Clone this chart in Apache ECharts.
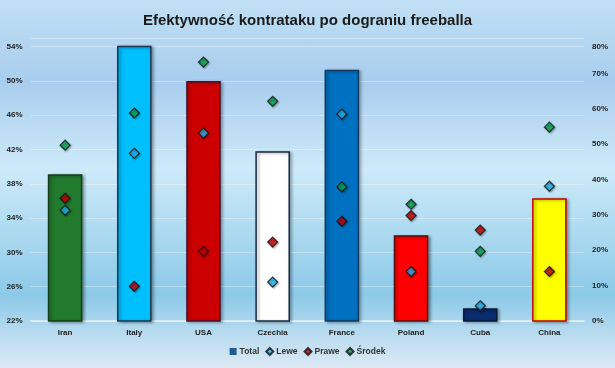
<!DOCTYPE html>
<html><head><meta charset="utf-8">
<script src="https://cdn.jsdelivr.net/npm/echarts@6/dist/echarts.min.js"></script>
<style>html,body{margin:0;padding:0;}#c{width:615px;height:368px;}</style>
</head><body><div id="c"></div>
<script>
const categories = ['Iran','Italy','USA','Czechia','France','Poland','Cuba','China'];
const total  = [39.1, 54.1, 50.0, 41.8, 51.3, 32.0, 23.5, 36.3];
const lewe   = [31.3, 47.4, 53.1, 11.0, 58.5, 14.0, 4.3, 38.1];
const prawe  = [34.7, 9.8, 19.7, 22.3, 28.2, 29.8, 25.7, 14.0];
const srodek = [49.7, 58.8, 73.2, 62.1, 37.9, 33.0, 19.7, 54.8];
const barColors  = ['#217a2e','#00bfff','#cc0000','#ffffff','#0070c0','#ff0000','#0b2d6e','#ffff00'];
const barBorders = ['#123d18','#1a3550','#4a1030','#1a2a44','#153a5e','#5a0a0a','#06173a','#c00000'];

const chart = echarts.init(document.getElementById('c'));
const diamond = (c) => ({color: c, borderColor: '#111', borderWidth: 1.2, shadowColor:'rgba(0,0,0,0.35)', shadowBlur:2, shadowOffsetX:1, shadowOffsetY:1});
const lbl = {fontFamily: 'Liberation Sans', fontWeight: 'bold', fontSize: 8, color: '#222'};
chart.setOption({
  backgroundColor: new echarts.graphic.LinearGradient(0,0,0,1,[
    {offset:0, color:'#bfe0f4'},
    {offset:0.22, color:'#a9cdee'},
    {offset:0.46, color:'#cdeaf9'},
    {offset:0.8, color:'#8ccae8'},
    {offset:1, color:'#dde9f5'}
  ]),
  animation: false,
  title: {text: 'Efektywność kontrataku po dograniu freeballa', left: 'center', top: 8,
    textStyle: {fontFamily: 'Liberation Sans', fontWeight: 'bold', fontSize: 15, color: '#1a1a1a'}},
  grid: {left: 30.5, right: 31, top: 38, bottom: 47},
  legend: {bottom: 7, left: 'center', itemWidth: 7, itemHeight: 7, itemGap: 6,
    textStyle: {fontFamily: 'Liberation Sans', fontWeight: 'bold', fontSize: 8.5, color: '#333', padding:[0,0,0,-2]},
    data: [{name:'Total', icon:'rect', itemStyle:{color:'#1f5c8c'}}, {name:'Lewe', icon:'diamond'}, {name:'Prawe', icon:'diamond'}, {name:'Środek', icon:'diamond'}]},
  xAxis: {type: 'category', data: categories,
    axisLine: {lineStyle: {color: '#e6f2fa', width: 1.5}}, axisTick: {show: false},
    axisLabel: Object.assign({margin: 8}, lbl)},
  yAxis: [
    {type: 'value', min: 22, max: 55, interval: 4,
      axisLine:{show:false}, axisTick:{show:false},
      splitLine: {lineStyle: {color: 'rgba(255,255,255,0.35)', width: 1}},
      axisLabel: Object.assign({showMaxLabel: false, formatter: v => Math.round(v) + '%', margin: 8}, lbl)},
    {type: 'value', min: 0, max: 80, interval: 10,
      axisLine:{show:false}, axisTick:{show:false}, splitLine: {show: false},
      axisLabel: Object.assign({margin: 8,
        formatter: v => Math.round(v) === 80 ? '{top|80%}' : Math.round(v) + '%',
        rich: {top: Object.assign({padding: [18, 0, 0, 0]}, lbl)}}, lbl)}
  ],
  series: [
    {name: 'Total', type: 'bar', yAxisIndex: 0, barWidth: '50%',
      data: total.map((v,i) => ({value: v, itemStyle: {color: barColors[i], borderColor: barBorders[i], borderWidth: 1.5,
        shadowColor: 'rgba(0,0,0,0.35)', shadowBlur: 3, shadowOffsetX: 2, shadowOffsetY: 1}})),
      itemStyle: {color: '#1f5c8c'}},
    {name: 'Lewe', type: 'scatter', yAxisIndex: 1, symbol: 'diamond', symbolSize: 10, data: lewe, itemStyle: diamond('#22b5f2'), z: 5},
    {name: 'Prawe', type: 'scatter', yAxisIndex: 1, symbol: 'diamond', symbolSize: 10, data: prawe, itemStyle: diamond('#c80000'), z: 5},
    {name: 'Środek', type: 'scatter', yAxisIndex: 1, symbol: 'diamond', symbolSize: 10, data: srodek, itemStyle: diamond('#00a550'), z: 5}
  ]
});
</script></body></html>
